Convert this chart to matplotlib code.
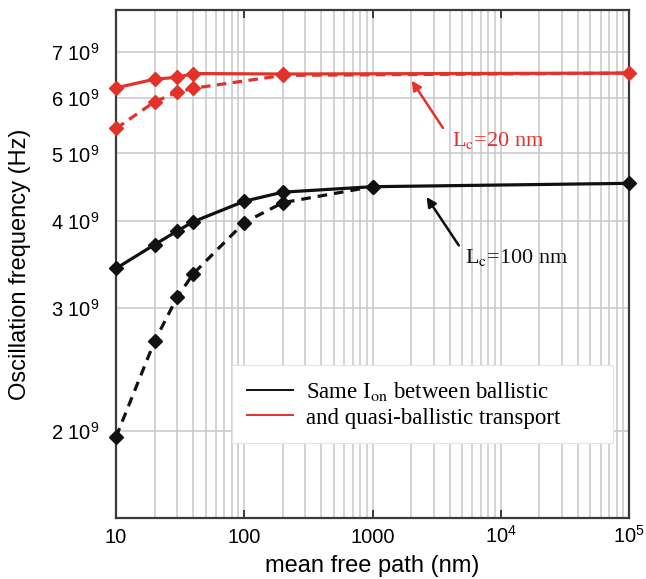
import matplotlib
matplotlib.use("Agg")
import matplotlib.pyplot as plt
from matplotlib.lines import Line2D
import numpy as np

plt.rcParams['font.family'] = ['Liberation Sans', 'DejaVu Sans']
plt.rcParams['mathtext.fontset'] = 'custom'
plt.rcParams['mathtext.rm'] = 'Liberation Sans'
plt.rcParams['mathtext.it'] = 'Liberation Sans:italic'
plt.rcParams['mathtext.bf'] = 'Liberation Sans:bold'

# ---- data ----
red_solid_x = [10, 20, 30, 40, 200, 1e5]
red_solid_y = [6.21e9, 6.39e9, 6.43e9, 6.51e9, 6.50e9, 6.52e9]
red_dash_x = [10, 20, 30, 40, 200, 1e5]
red_dash_y = [5.43e9, 5.93e9, 6.12e9, 6.20e9, 6.47e9, 6.52e9]
red_dash_marked = [True, True, True, True, True, False]

blk_solid_x = [10, 20, 30, 40, 100, 200, 1000, 1e5]
blk_solid_y = [3.42e9, 3.70e9, 3.87e9, 3.99e9, 4.27e9, 4.40e9, 4.48e9, 4.53e9]
blk_dash_x = [10, 20, 30, 40, 100, 200, 1000]
blk_dash_y = [1.96e9, 2.69e9, 3.11e9, 3.36e9, 3.98e9, 4.25e9, 4.48e9]

x_ticks = [10, 100, 1000, 1e4, 1e5]
x_ticklabels = ['10', '100', '1000', r'10$^{4}$', r'10$^{5}$']
y_ticks = [2e9, 3e9, 4e9, 5e9, 6e9, 7e9]
y_ticklabels = [r'2 10$^{9}$', r'3 10$^{9}$', r'4 10$^{9}$', r'5 10$^{9}$', r'6 10$^{9}$', r'7 10$^{9}$']

legend_labels = [r'Same I$_{\mathrm{on}}$ between ballistic', 'and quasi-ballistic transport']

RED = '#e2322a'
BLK = '#111111'

fig = plt.figure(figsize=(6.46, 5.79), dpi=100)
ax = fig.add_axes([116/646, 61/579, 513/646, 508/579])

ax.set_xscale('log')
ax.set_yscale('log')
ax.set_xlim(10, 1e5)
ax.set_ylim(1.5e9, 8.03e9)

# grid
ax.set_xticks(x_ticks)
ax.set_xticklabels(x_ticklabels)
ax.set_xticks([m * 10**d for d in range(1, 5) for m in range(2, 10)], minor=True)
ax.set_yticks(y_ticks)
ax.set_yticklabels(y_ticklabels)
ax.set_yticks([], minor=True)
ax.yaxis.set_minor_formatter(matplotlib.ticker.NullFormatter())
ax.grid(True, which='major', axis='both', color='#c8c8c8', lw=1.1)
ax.grid(True, which='minor', axis='x', color='#c8c8c8', lw=1.1)
ax.set_axisbelow(True)

ax.tick_params(axis='x', which='major', direction='in', top=True, bottom=True,
               length=6, width=1.2, color='#222222', labelsize=14.5, pad=18)
ax.tick_params(axis='x', which='minor', length=0)
ax.tick_params(axis='y', which='major', direction='in', left=True, right=False,
               length=0, labelsize=14.5, pad=12)
for lbl in ax.get_xticklabels():
    lbl.set_verticalalignment('baseline')
for s in ax.spines.values():
    s.set_color('#3a3a3a')
    s.set_linewidth(1.6)

# lines
lw = 2.3
ms = 7.3
ax.plot(blk_dash_x, blk_dash_y, color=BLK, lw=lw, dashes=(3.0, 2.2),
        marker='D', ms=ms, mec=BLK, zorder=3, clip_on=False)
ax.plot(blk_solid_x, blk_solid_y, color=BLK, lw=lw, marker='D', ms=ms, mec=BLK,
        zorder=4, clip_on=False)
ax.plot(red_dash_x, red_dash_y, color=RED, lw=lw, dashes=(3.0, 2.0),
        marker='D', ms=ms, mec=RED, markevery=red_dash_marked, zorder=3, clip_on=False)
ax.plot(red_solid_x, red_solid_y, color=RED, lw=lw, marker='D', ms=ms, mec=RED,
        zorder=4, clip_on=False)

# annotations
ax.annotate('', xy=(2020, 6.36e9), xytext=(3540, 5.44e9),
            arrowprops=dict(arrowstyle='-|>', color=RED, lw=1.8, mutation_scale=14,
                            shrinkA=0, shrinkB=0))
ax.text(4140, 5.21e9, r'L$_{\mathrm{c}}$=20 nm', color=RED, fontsize=16,
        family=['Liberation Serif'], math_fontfamily='stix', va='center', ha='left')
ax.annotate('', xy=(2640, 4.33e9), xytext=(4710, 3.69e9),
            arrowprops=dict(arrowstyle='-|>', color=BLK, lw=1.8, mutation_scale=14,
                            shrinkA=0, shrinkB=0))
ax.text(5250, 3.55e9, r'L$_{\mathrm{c}}$=100 nm', color=BLK, fontsize=16,
        family=['Liberation Serif'], math_fontfamily='stix', va='center', ha='left')

# legend
handles = [Line2D([], [], color=BLK, lw=1.4), Line2D([], [], color=RED, lw=1.4)]
leg = ax.legend(handles, legend_labels, loc='upper left',
                bbox_to_anchor=(0.2261, 0.1398, 0.7427, 0.1614), mode='expand',
                borderaxespad=0, fancybox=False, framealpha=1, edgecolor='#e4e4e4',
                prop={'family': 'Liberation Serif', 'size': 16.5},
                handlelength=2.0, handletextpad=0.6, borderpad=0.65, labelspacing=0.2)
for t in leg.get_texts():
    t.set_math_fontfamily('stix')
leg.get_frame().set_linewidth(0.8)

ax.set_xlabel('mean free path (nm)', fontsize=17, labelpad=6)
ax.set_ylabel('Oscillation frequency (Hz)', fontsize=17, labelpad=14)

fig.savefig('out.png', dpi=100)
